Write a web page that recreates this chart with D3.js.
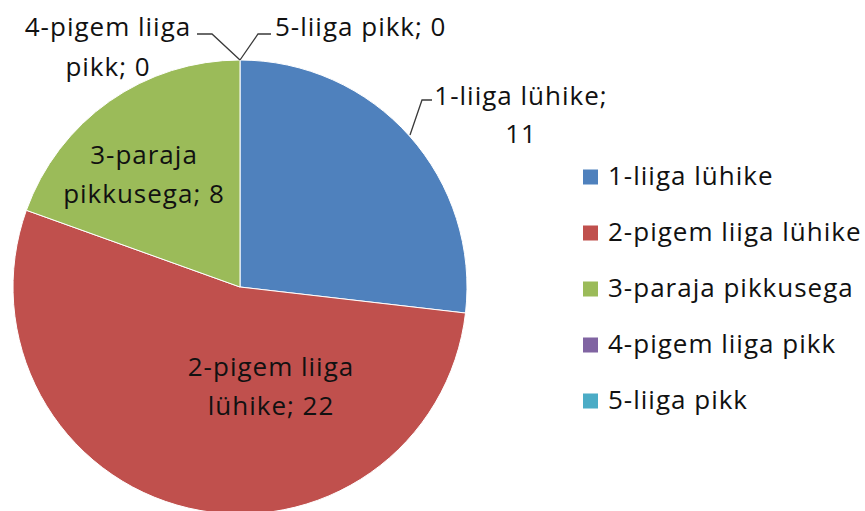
<!DOCTYPE html>
<html><head><meta charset="utf-8">
<script src="https://cdn.jsdelivr.net/npm/d3@7"></script>
<style>html,body{margin:0;padding:0;background:#fff;}svg{display:block;}</style>
</head><body>
<svg id="c" width="865" height="511"></svg>
<script>
const categories = ["1-liiga lühike","2-pigem liiga lühike","3-paraja pikkusega","4-pigem liiga pikk","5-liiga pikk"];
const values = [11, 22, 8, 0, 0];
const colors = ["#4F81BD","#C0504D","#9BBB59","#8064A2","#4BACC6"];
// data label text, split into lines as in the reference
const labelLines = [["1-liiga lühike;","11"],["2-pigem liiga","lühike; 22"],["3-paraja","pikkusega; 8"],["4-pigem liiga","pikk; 0"],["5-liiga pikk; 0"]];

const svg = d3.select("#c");
const font = "'Open Sans', sans-serif";
const fs = 26, ls = 1;
const cx = 240, cy = 287, r = 227;
const data = categories.map((c,i)=>({cat:c, value:values[i], color:colors[i], lines:labelLines[i]}));
const pie = d3.pie().value(d=>d.value).sort(null);
const arcs = pie(data);
const arc = d3.arc().innerRadius(0).outerRadius(r);
const g = svg.append("g").attr("transform",`translate(${cx},${cy})`);
g.selectAll("path").data(arcs.filter(a=>a.data.value>0)).join("path")
  .attr("d",arc).attr("fill",d=>d.data.color).attr("stroke","#fff").attr("stroke-width",1);

// label layout in page coordinates (x, first baseline, line height, anchor, optional leader)
const labelPos = [
  {x:521, y:105, lh:38, anchor:"middle", leader:[[410,135],[422,100],[432,100]]},
  {x:271, y:376, lh:39, anchor:"middle"},
  {x:144, y:164, lh:39, anchor:"middle"},
  {x:108, y:36, lh:40, anchor:"middle", leader:[[240,60],[212,34],[197,34]]},
  {x:275, y:36, lh:40, anchor:"start", leader:[[240,60],[258,34],[271,34]]}
];
arcs.forEach((a,i)=>{
  const p = labelPos[i];
  if(p.leader){
    svg.append("path").attr("d",d3.line()(p.leader)).attr("fill","none").attr("stroke","#3a3a3a").attr("stroke-width",1.3);
  }
  const t = svg.append("text").attr("font-family",font).attr("font-size",fs).attr("letter-spacing",ls)
    .attr("fill","#111").attr("text-anchor",p.anchor);
  a.data.lines.forEach((ln,j)=>{
    t.append("tspan").attr("x",p.x).attr("y",p.y + j*p.lh).text(ln);
  });
});

// legend
const lg = svg.append("g").attr("transform","translate(583,177)");
const rows = lg.selectAll("g").data(data).join("g").attr("transform",(d,i)=>`translate(0,${i*56})`);
rows.append("rect").attr("x",0).attr("y",-7.5).attr("width",15).attr("height",15).attr("fill",d=>d.color);
rows.append("text").attr("x",25).attr("y",8).attr("font-family",font).attr("font-size",fs).attr("letter-spacing",ls)
  .attr("fill","#111").text(d=>d.cat);
</script>
</body></html>
